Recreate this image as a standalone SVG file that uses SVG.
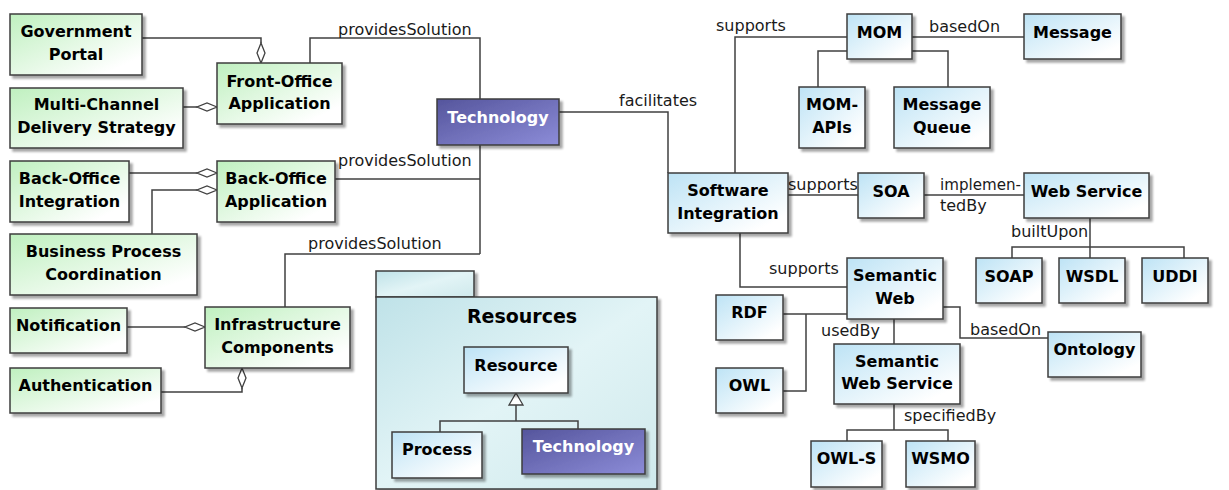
<svg xmlns="http://www.w3.org/2000/svg" width="1229" height="490" viewBox="0 0 1229 490">
<defs>
<linearGradient id="gGreen" x1="0" y1="0" x2="1" y2="1">
<stop offset="0" stop-color="#bff0bf"/><stop offset="0.85" stop-color="#ffffff"/></linearGradient>
<linearGradient id="gBlue" x1="0" y1="0" x2="1" y2="1">
<stop offset="0" stop-color="#bde3f5"/><stop offset="0.85" stop-color="#ffffff"/></linearGradient>
<linearGradient id="gDark" x1="0" y1="0" x2="1" y2="1">
<stop offset="0" stop-color="#55559c"/><stop offset="1" stop-color="#8c8cd8"/></linearGradient>
<linearGradient id="gPkg" x1="0" y1="0" x2="1" y2="1">
<stop offset="0" stop-color="#bfe2e8"/><stop offset="0.5" stop-color="#e2f4f6"/><stop offset="1" stop-color="#cfe9ec"/></linearGradient>
<filter id="sh" x="-10%" y="-10%" width="130%" height="140%">
<feDropShadow dx="3" dy="3" stdDeviation="1" flood-color="#000" flood-opacity="0.35"/></filter>
<style>
.g{fill:url(#gGreen)}
.b{fill:url(#gBlue)}
.d{fill:url(#gDark)}
.box{stroke:#3c3c3c;stroke-width:1.5;filter:url(#sh)}
.t{font-family:"DejaVu Sans",sans-serif;font-weight:bold;font-size:16px;fill:#000;text-anchor:middle}
.tw{fill:#ffffff}
.lbl{font-family:"DejaVu Sans",sans-serif;font-size:16px;fill:#1a1a1a}
.c{fill:none;stroke:#404040;stroke-width:1.5}
.agg{fill:#ffffff;stroke:#404040;stroke-width:1.3}
.pk{fill:url(#gPkg);stroke:#3c3c3c;stroke-width:1.5;filter:url(#sh)}
</style>
</defs>
<rect width="1229" height="490" fill="#ffffff"/>

<g id="resources-package">
<rect class="pk" x="376" y="271" width="98" height="26"/>
<rect class="pk" x="376" y="297" width="281" height="192"/>
<text class="t" x="522" y="323" style="font-size:19px">Resources</text>
</g>

<g id="connectors">
<path class="c" d="M142,38 H261 V43"/>
<polygon class="agg" points="261,63 265,53 261,43 257,53"/>
<path class="c" d="M183,107 H197"/>
<polygon class="agg" points="217,107 207,103 197,107 207,111"/>
<path class="c" d="M129,173 H197"/>
<polygon class="agg" points="217,173 207,169 197,173 207,177"/>
<path class="c" d="M152,234 V190 H197"/>
<polygon class="agg" points="217,190 207,186 197,190 207,194"/>
<path class="c" d="M127,327 H185"/>
<polygon class="agg" points="205,327 195,323 185,327 195,331"/>
<path class="c" d="M161,392 H242 V388"/>
<polygon class="agg" points="242,368 246,378 242,388 238,378"/>
<path class="c" d="M310,63 V38 H480 V99"/>
<path class="c" d="M480,145 V254"/>
<path class="c" d="M335,179 H480"/>
<path class="c" d="M285,307 V254 H480"/>
<path class="c" d="M559,112 H668 V173"/>
<path class="c" d="M735,173 V37 H847"/>
<path class="c" d="M912,37 H1024"/>
<path class="c" d="M847,51 H818 V87"/>
<path class="c" d="M912,51 H948 V87"/>
<path class="c" d="M788,195 H858"/>
<path class="c" d="M924,195 H1024"/>
<path class="c" d="M1090,218 V258"/>
<path class="c" d="M1012,258 V247 H1184 V258"/>
<path class="c" d="M740,233 V287 H847"/>
<path class="c" d="M847,314 H783"/>
<path class="c" d="M806,314 V391 H783"/>
<path class="c" d="M943,307 H960 V338 H1048"/>
<path class="c" d="M894,319 V344"/>
<path class="c" d="M894,404 V430"/>
<path class="c" d="M847,441 V430 H948 V441"/>
<path class="c" d="M516,405 V421"/>
<path class="c" d="M440,432 V421 H578 V429"/>
<polygon class="agg" points="516,393 523,405 509,405"/>
<text class="lbl" x="338" y="35">providesSolution</text>
<text class="lbl" x="338" y="166">providesSolution</text>
<text class="lbl" x="308" y="249">providesSolution</text>
<text class="lbl" x="619" y="106">facilitates</text>
<text class="lbl" x="716" y="31">supports</text>
<text class="lbl" x="929" y="32">basedOn</text>
<text class="lbl" x="788" y="190">supports</text>
<text class="lbl" x="940" y="190" textLength="81" lengthAdjust="spacingAndGlyphs">implemen-</text>
<text class="lbl" x="940" y="211">tedBy</text>
<text class="lbl" x="1011" y="237">builtUpon</text>
<text class="lbl" x="769" y="274">supports</text>
<text class="lbl" x="970" y="335">basedOn</text>
<text class="lbl" x="821" y="336">usedBy</text>
<text class="lbl" x="904" y="421">specifiedBy</text>
</g>

<g id="government-portal"><rect class="box g" x="10" y="14" width="132" height="61"/>
<text class="t" x="76" y="37">Government</text><text class="t" x="76" y="60">Portal</text></g>
<g id="front-office-application"><rect class="box g" x="217" y="63" width="125" height="61"/>
<text class="t" x="279.5" y="87">Front-Office</text><text class="t" x="279.5" y="109">Application</text></g>
<g id="multi-channel"><rect class="box g" x="10" y="88" width="173" height="60"/>
<text class="t" x="96.5" y="110">Multi-Channel</text><text class="t" x="96.5" y="133">Delivery Strategy</text></g>
<g id="back-office-integration"><rect class="box g" x="10" y="161" width="119" height="61"/>
<text class="t" x="69.5" y="184">Back-Office</text><text class="t" x="69.5" y="207">Integration</text></g>
<g id="back-office-application"><rect class="box g" x="217" y="161" width="118" height="61"/>
<text class="t" x="276" y="184">Back-Office</text><text class="t" x="276" y="207">Application</text></g>
<g id="business-process-coordination"><rect class="box g" x="10" y="234" width="187" height="61"/>
<text class="t" x="103.5" y="257">Business Process</text><text class="t" x="103.5" y="280">Coordination</text></g>
<g id="notification"><rect class="box g" x="10" y="308" width="117" height="45"/>
<text class="t" x="68.5" y="331">Notification</text></g>
<g id="infrastructure-components"><rect class="box g" x="205" y="307" width="145" height="61"/>
<text class="t" x="277.5" y="330">Infrastructure</text><text class="t" x="277.5" y="353">Components</text></g>
<g id="authentication"><rect class="box g" x="10" y="368" width="151" height="45"/>
<text class="t" x="85.5" y="391">Authentication</text></g>

<g id="technology"><rect class="box d" x="437" y="99" width="122" height="46"/>
<text class="t tw" x="498" y="123">Technology</text></g>

<g id="resource"><rect class="box b" x="464" y="347" width="104" height="46"/>
<text class="t" x="516" y="371">Resource</text></g>
<g id="process"><rect class="box b" x="392" y="432" width="90" height="46"/>
<text class="t" x="437" y="455">Process</text></g>
<g id="technology-inner"><rect class="box d" x="522" y="429" width="123" height="45"/>
<text class="t tw" x="583.5" y="452">Technology</text></g>

<g id="mom"><rect class="box b" x="847" y="14" width="65" height="45"/>
<text class="t" x="879.5" y="38">MOM</text></g>
<g id="message"><rect class="box b" x="1024" y="14" width="97" height="45"/>
<text class="t" x="1072.5" y="38">Message</text></g>
<g id="mom-apis"><rect class="box b" x="799" y="87" width="66" height="61"/>
<text class="t" x="832" y="110">MOM-</text><text class="t" x="832" y="133">APIs</text></g>
<g id="message-queue"><rect class="box b" x="894" y="87" width="96" height="61"/>
<text class="t" x="942" y="110">Message</text><text class="t" x="942" y="133">Queue</text></g>
<g id="software-integration"><rect class="box b" x="668" y="173" width="120" height="60"/>
<text class="t" x="728" y="196">Software</text><text class="t" x="728" y="219">Integration</text></g>
<g id="soa"><rect class="box b" x="858" y="173" width="66" height="45"/>
<text class="t" x="891" y="197">SOA</text></g>
<g id="web-service"><rect class="box b" x="1024" y="173" width="125" height="45"/>
<text class="t" x="1086.5" y="197">Web Service</text></g>
<g id="soap"><rect class="box b" x="976" y="258" width="66" height="45"/>
<text class="t" x="1009" y="282">SOAP</text></g>
<g id="wsdl"><rect class="box b" x="1059" y="258" width="66" height="45"/>
<text class="t" x="1092" y="282">WSDL</text></g>
<g id="uddi"><rect class="box b" x="1142" y="258" width="66" height="45"/>
<text class="t" x="1175" y="282">UDDI</text></g>
<g id="semantic-web"><rect class="box b" x="847" y="258" width="96" height="61"/>
<text class="t" x="895" y="281">Semantic</text><text class="t" x="895" y="304">Web</text></g>
<g id="rdf"><rect class="box b" x="716" y="295" width="67" height="45"/>
<text class="t" x="749.5" y="318">RDF</text></g>
<g id="owl"><rect class="box b" x="716" y="368" width="67" height="45"/>
<text class="t" x="749.5" y="391">OWL</text></g>
<g id="ontology"><rect class="box b" x="1048" y="332" width="93" height="45"/>
<text class="t" x="1094.5" y="355">Ontology</text></g>
<g id="semantic-web-service"><rect class="box b" x="834" y="344" width="126" height="60"/>
<text class="t" x="897" y="367">Semantic</text><text class="t" x="897" y="389">Web Service</text></g>
<g id="owl-s"><rect class="box b" x="811" y="441" width="71" height="46"/>
<text class="t" x="846.5" y="464">OWL-S</text></g>
<g id="wsmo"><rect class="box b" x="906" y="441" width="69" height="46"/>
<text class="t" x="940.5" y="464">WSMO</text></g>
</svg>
